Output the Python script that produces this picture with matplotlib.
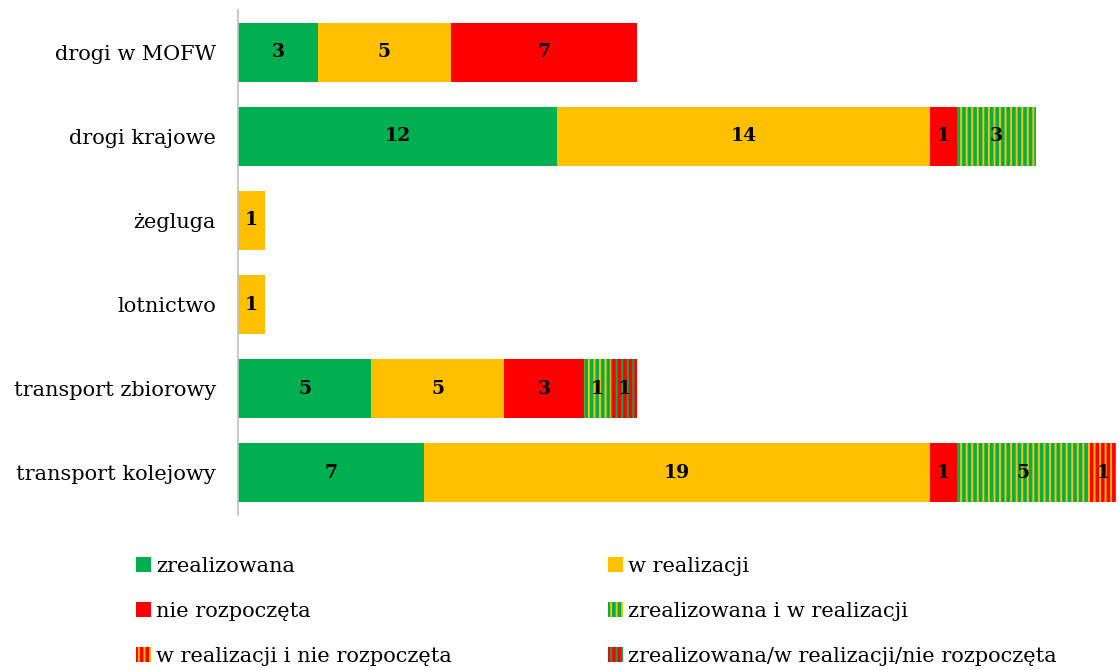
import numpy as np
import matplotlib.pyplot as plt
from matplotlib.patches import Patch

plt.rcParams['font.family'] = ['DejaVu Serif']
plt.rcParams['hatch.linewidth'] = 2.6

categories = ['drogi w MOFW', 'drogi krajowe', 'żegluga', 'lotnictwo',
              'transport zbiorowy', 'transport kolejowy']
zrealizowana = [3, 12, 0, 0, 5, 7]
w_realizacji = [5, 14, 1, 1, 5, 19]
nie_rozpoczeta = [7, 1, 0, 0, 3, 1]
zr_i_w = [0, 3, 0, 0, 1, 5]
w_i_nie = [0, 0, 0, 0, 0, 1]
zr_w_nie = [0, 0, 0, 0, 1, 0]

green = '#00B050'
yellow = '#FFC000'
red = '#FF0000'

# name, values, face colour, hatch colour (None = plain)
series = [
    ('zrealizowana', zrealizowana, green, None),
    ('w realizacji', w_realizacji, yellow, None),
    ('nie rozpoczęta', nie_rozpoczeta, red, None),
    ('zrealizowana i w realizacji', zr_i_w, yellow, green),
    ('w realizacji i nie rozpoczęta', w_i_nie, yellow, red),
    ('zrealizowana/w realizacji/nie rozpoczęta', zr_w_nie, green, red),
]

fig = plt.figure(figsize=(11.19, 6.70), dpi=100)
ax = fig.add_axes([0.2127, 0.2313, 0.7873, 0.7537])

y = np.arange(len(categories))
left = np.zeros(len(categories))
handles = {}
for name, vals, face, hcol in series:
    vals = np.array(vals, dtype=float)
    if hcol is None:
        bars = ax.barh(y, vals, left=left, height=0.7, color=face, linewidth=0)
        handles[name] = Patch(facecolor=face, linewidth=0)
    else:
        bars = ax.barh(y, vals, left=left, height=0.7, color=face,
                       edgecolor=hcol, hatch='|||', linewidth=0)
        handles[name] = Patch(facecolor=face, edgecolor=hcol, hatch='|||', linewidth=0)
    for b, v in zip(bars, vals):
        if v > 0:
            ax.text(b.get_x() + b.get_width() / 2, b.get_y() + b.get_height() / 2,
                    str(int(v)), ha='center', va='center', fontsize=13.5,
                    fontweight='bold', color='black')
    left += vals

ax.set_ylim(len(categories) - 0.5, -0.5)
ax.set_xlim(0, 33.1)
ax.set_yticks(y)
ax.set_yticklabels(categories, fontsize=15)
ax.tick_params(axis='y', length=0, pad=16)
ax.set_xticks([])
for s in ['top', 'right', 'bottom']:
    ax.spines[s].set_visible(False)
ax.spines['left'].set_color('#BFBFBF')
ax.spines['left'].set_linewidth(1.2)

order = ['zrealizowana', 'nie rozpoczęta', 'w realizacji i nie rozpoczęta',
         'w realizacji', 'zrealizowana i w realizacji',
         'zrealizowana/w realizacji/nie rozpoczęta']
fig.legend([handles[n] for n in order], order, loc='upper left',
           bbox_to_anchor=(0.105, 0.197), ncol=2, frameon=False, fontsize=15,
           handlelength=0.7, handleheight=0.7, handletextpad=0.25,
           columnspacing=7.5, labelspacing=1.25)

plt.savefig('out.png', dpi=100)
